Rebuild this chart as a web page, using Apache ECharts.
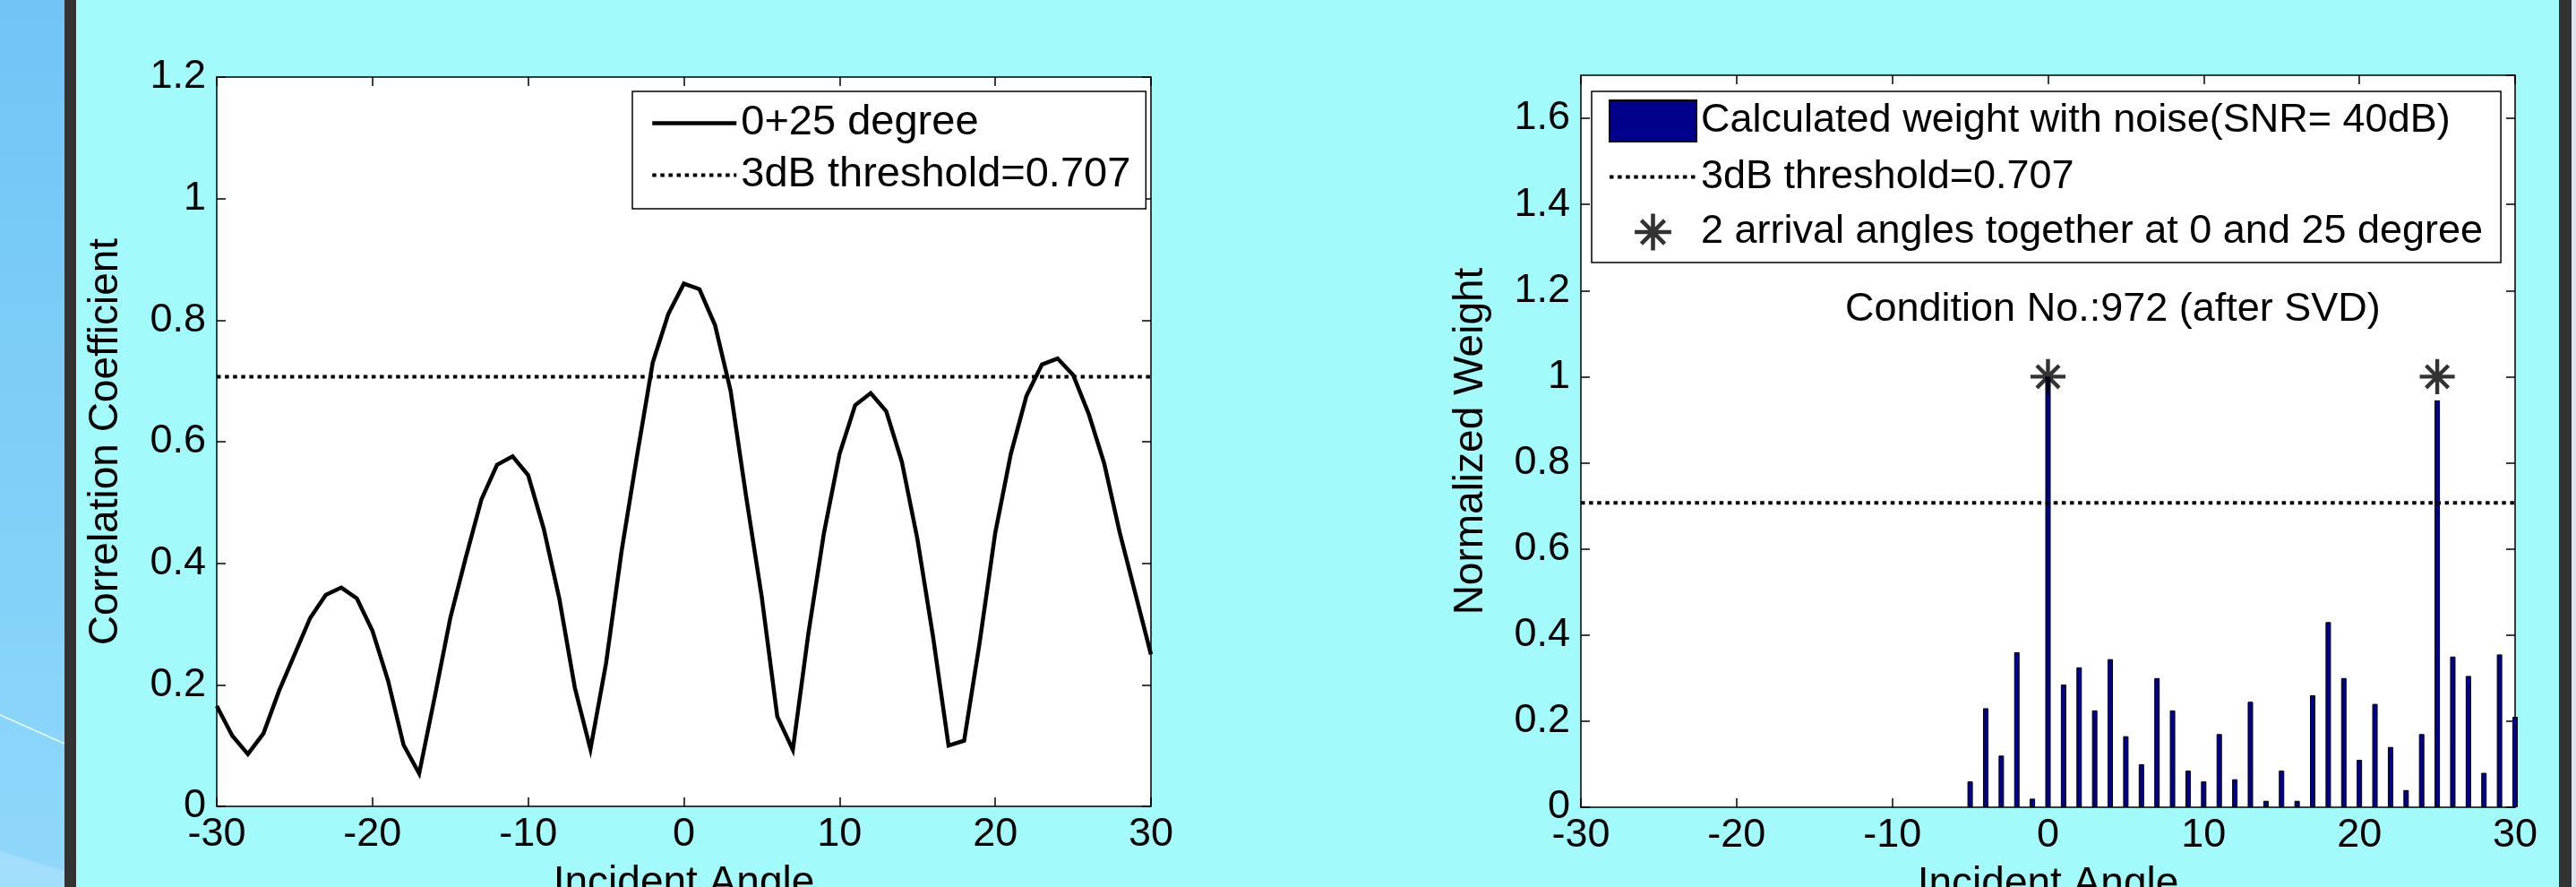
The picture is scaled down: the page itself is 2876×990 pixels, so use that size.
<!DOCTYPE html>
<html>
<head>
<meta charset="utf-8">
<title>Correlation coefficient and normalized weight vs incident angle</title>
<script src="https://cdn.jsdelivr.net/npm/echarts@6/dist/echarts.min.js"></script>
<style>
  html, body { margin: 0; padding: 0; background: #a2fafa; }
  #chart { width: 2876px; height: 990px; }
</style>
</head>
<body>
<div id="chart"></div>
<script>
// left plot: correlation coefficient, one point per degree
var angles = [-30, -29, -28, -27, -26, -25, -24, -23, -22, -21,
  -20, -19, -18, -17, -16, -15, -14, -13, -12, -11,
  -10, -9, -8, -7, -6, -5, -4, -3, -2, -1,
  0, 1, 2, 3, 4, 5, 6, 7, 8, 9,
  10, 11, 12, 13, 14, 15, 16, 17, 18, 19,
  20, 21, 22, 23, 24, 25, 26, 27, 28, 29, 30];
var correlation = [0.165, 0.116, 0.086, 0.12, 0.19, 0.25, 0.31, 0.348, 0.36, 0.342,
  0.289, 0.207, 0.101, 0.054, 0.18, 0.31, 0.41, 0.505, 0.562, 0.576,
  0.545, 0.457, 0.342, 0.195, 0.094, 0.235, 0.42, 0.578, 0.73, 0.81,
  0.86, 0.851, 0.792, 0.684, 0.51, 0.345, 0.148, 0.093, 0.285, 0.45,
  0.58, 0.66, 0.68, 0.65, 0.567, 0.44, 0.28, 0.10, 0.108, 0.27,
  0.45, 0.58, 0.675, 0.727, 0.737, 0.71, 0.646, 0.564, 0.45, 0.35, 0.25];

// right plot: weights (zero below -5 degree)
var weightAngles = [-5, -4, -3, -2, -1, 0, 1, 2, 3, 4,
  5, 6, 7, 8, 9, 10, 11, 12, 13, 14,
  15, 16, 17, 18, 19, 20, 21, 22, 23, 24,
  25, 26, 27, 28, 29, 30];
var weights = [0.06, 0.23, 0.12, 0.36, 0.02, 1.0, 0.285, 0.325, 0.225, 0.344,
  0.165, 0.10, 0.30, 0.225, 0.085, 0.06, 0.17, 0.065, 0.245, 0.015,
  0.085, 0.015, 0.26, 0.43, 0.30, 0.11, 0.24, 0.14, 0.04, 0.17,
  0.945, 0.35, 0.305, 0.08, 0.355, 0.21];

var arrivalAngles = [0, 25];
var arrivalMarks = [1, 1];

var thresholdValue = 0.707;
var angleRange = [-30, 30];
var corrMax = 1.2;
var weightMax = 1.7;

var FONT = "'Liberation Sans', Arial, Helvetica, sans-serif";
var BLACK = '#000';
var DOTTED = [4.5, 4.6];
var CURVE_W = 4.5;
var DOT_W = 4;

// MATLAB style asterisk ('*' marker), a little padding in a 100x100 box
var ASTERISK = 'path://M5 5L5 5ZM95 95L95 95Z' +
  'M10 45.5L90 45.5L90 54.5L10 54.5Z' +
  'M45.5 10L54.5 10L54.5 90L45.5 90Z' +
  'M27.68 21.32L78.68 72.32L72.32 78.68L21.32 27.68Z' +
  'M21.32 72.32L72.32 21.32L78.68 27.68L27.68 78.68Z';

function zip(xs, ys) {
  return xs.map(function (x, i) { return [x, ys[i]]; });
}

function xAxisFor(gridIndex, pos) {
  var isMain = pos === 'bottom';
  return {
    gridIndex: gridIndex,
    type: 'value',
    position: pos,
    min: angleRange[0],
    max: angleRange[1],
    interval: 10,
    axisLine: { show: true, onZero: false, lineStyle: { color: BLACK, width: 1.5 } },
    axisTick: { show: true, inside: true, length: 10, lineStyle: { color: BLACK, width: 1.5 } },
    axisLabel: { show: isMain, color: BLACK, fontSize: 45, fontFamily: FONT, margin: 9 },
    splitLine: { show: false },
    name: isMain ? 'Incident Angle' : '',
    nameLocation: 'middle',
    nameGap: 63,
    nameMoveOverlap: false,
    nameTextStyle: { color: BLACK, fontSize: 46, fontFamily: FONT }
  };
}

function yAxisFor(gridIndex, pos, max, title, gap) {
  var isMain = pos === 'left';
  return {
    gridIndex: gridIndex,
    type: 'value',
    position: pos,
    min: 0,
    max: max,
    interval: 0.2,
    axisLine: { show: true, onZero: false, lineStyle: { color: BLACK, width: 1.5 } },
    axisTick: { show: true, inside: true, length: 10, lineStyle: { color: BLACK, width: 1.5 } },
    axisLabel: { show: isMain, color: BLACK, fontSize: 45, fontFamily: FONT, margin: 12, showMaxLabel: max === 1.2 },
    splitLine: { show: false },
    name: isMain ? title : '',
    nameLocation: 'middle',
    nameGap: gap,
    nameMoveOverlap: false,
    nameTextStyle: { color: BLACK, fontSize: 46, fontFamily: FONT }
  };
}

var chart = echarts.init(document.getElementById('chart'));

var option = {
  backgroundColor: '#a2fafa',
  animation: false,
  title: {
    text: 'Condition No.:972 (after SVD)',
    left: 2060,
    top: 323,
    padding: 0,
    textStyle: { color: BLACK, fontSize: 45, fontWeight: 'normal', fontFamily: FONT, lineHeight: 45 }
  },
  graphic: [
    {
      type: 'rect', z: -10, silent: true,
      shape: { x: 0, y: 0, width: 72, height: 990 },
      style: {
        fill: new echarts.graphic.LinearGradient(0, 0, 0, 1, [
          { offset: 0, color: '#70c5f5' },
          { offset: 1, color: '#8fd8fb' }
        ])
      }
    },
    {
      type: 'line', z: -9, silent: true,
      shape: { x1: 0, y1: 798, x2: 72, y2: 830 },
      style: { stroke: 'rgba(255,255,255,0.9)', lineWidth: 1.5 }
    },
    {
      type: 'polygon', z: -9, silent: true,
      shape: { points: [[0, 950], [72, 972], [72, 990], [0, 990]] },
      style: { fill: 'rgba(255,255,255,0.18)' }
    },
    { type: 'rect', z: -9, silent: true, shape: { x: 72, y: 0, width: 13, height: 990 }, style: { fill: '#333' } },
    { type: 'rect', z: -9, silent: true, shape: { x: 2857, y: 0, width: 14, height: 990 }, style: { fill: '#333' } },
    { type: 'rect', z: -9, silent: true, shape: { x: 2871, y: 0, width: 5, height: 990 }, style: { fill: '#dbe5f2' } }
  ],
  grid: [
    {
      left: 242, top: 86, width: 1043, height: 814,
      outerBoundsMode: 'none', containLabel: false,
      show: true, backgroundColor: '#fff', borderWidth: 0
    },
    {
      left: 1765, top: 84, width: 1043, height: 817,
      outerBoundsMode: 'none', containLabel: false,
      show: true, backgroundColor: '#fff', borderWidth: 0
    }
  ],
  xAxis: [
    xAxisFor(0, 'bottom'),
    xAxisFor(0, 'top'),
    xAxisFor(1, 'bottom'),
    xAxisFor(1, 'top')
  ],
  yAxis: [
    yAxisFor(0, 'left', corrMax, 'Correlation Coefficient', 101),
    yAxisFor(0, 'right', corrMax, '', 0),
    yAxisFor(1, 'left', weightMax, 'Normalized Weight', 100),
    yAxisFor(1, 'right', weightMax, '', 0)
  ],
  legend: [
    {
      // line samples only, hide the default circle marker
      data: [
        { name: '0+25 degree', itemStyle: { opacity: 0 }, lineStyle: { width: CURVE_W } },
        { name: '3dB threshold=0.707', itemStyle: { opacity: 0 }, lineStyle: { width: DOT_W, type: DOTTED } }
      ],
      orient: 'vertical',
      left: 706,
      top: 102,
      padding: [12, 17, 14, 20],
      itemWidth: 94,
      itemHeight: 46,
      itemGap: 11,
      selectedMode: false,
      backgroundColor: '#fff',
      borderColor: BLACK,
      borderWidth: 1.5,
      borderRadius: 0,
      textStyle: { color: BLACK, fontSize: 47, fontFamily: FONT }
    },
    {
      data: [
        { name: 'Calculated weight with noise(SNR= 40dB)', icon: 'rect' },
        { name: '3dB threshold=0.707', itemStyle: { opacity: 0 }, lineStyle: { width: DOT_W, type: DOTTED } },
        { name: '2 arrival angles together at 0 and 25 degree' }
      ],
      orient: 'vertical',
      left: 1777,
      top: 102,
      padding: [9, 20, 11, 18],
      itemWidth: 97,
      itemHeight: 46,
      itemGap: 16,
      selectedMode: false,
      backgroundColor: '#fff',
      borderColor: BLACK,
      borderWidth: 1.5,
      borderRadius: 0,
      textStyle: { color: BLACK, fontSize: 45, fontFamily: FONT }
    }
  ],
  series: [
    {
      name: '0+25 degree',
      type: 'line',
      xAxisIndex: 0,
      yAxisIndex: 0,
      data: zip(angles, correlation),
      symbol: 'none',
      lineStyle: { color: BLACK, width: CURVE_W, join: 'miter' },
      itemStyle: { color: BLACK },
      z: 4
    },
    {
      name: '3dB threshold=0.707',
      type: 'line',
      xAxisIndex: 0,
      yAxisIndex: 0,
      data: zip(angleRange, [thresholdValue, thresholdValue]),
      symbol: 'none',
      lineStyle: { color: BLACK, width: DOT_W, type: DOTTED },
      itemStyle: { color: BLACK },
      z: 3
    },
    {
      name: 'Calculated weight with noise(SNR= 40dB)',
      type: 'bar',
      xAxisIndex: 2,
      yAxisIndex: 2,
      data: zip(weightAngles, weights),
      barWidth: 6,
      itemStyle: { color: '#00008b', borderColor: BLACK, borderWidth: 1 },
      z: 2
    },
    {
      name: '3dB threshold=0.707',
      type: 'line',
      xAxisIndex: 2,
      yAxisIndex: 2,
      data: zip(angleRange, [thresholdValue, thresholdValue]),
      symbol: 'none',
      lineStyle: { color: BLACK, width: DOT_W, type: DOTTED },
      itemStyle: { color: BLACK },
      z: 3
    },
    {
      name: '2 arrival angles together at 0 and 25 degree',
      type: 'scatter',
      xAxisIndex: 2,
      yAxisIndex: 2,
      data: zip(arrivalAngles, arrivalMarks),
      symbol: ASTERISK,
      symbolSize: 44,
      itemStyle: { color: BLACK },
      z: 5
    }
  ]
};

chart.setOption(option);
</script>
</body>
</html>
